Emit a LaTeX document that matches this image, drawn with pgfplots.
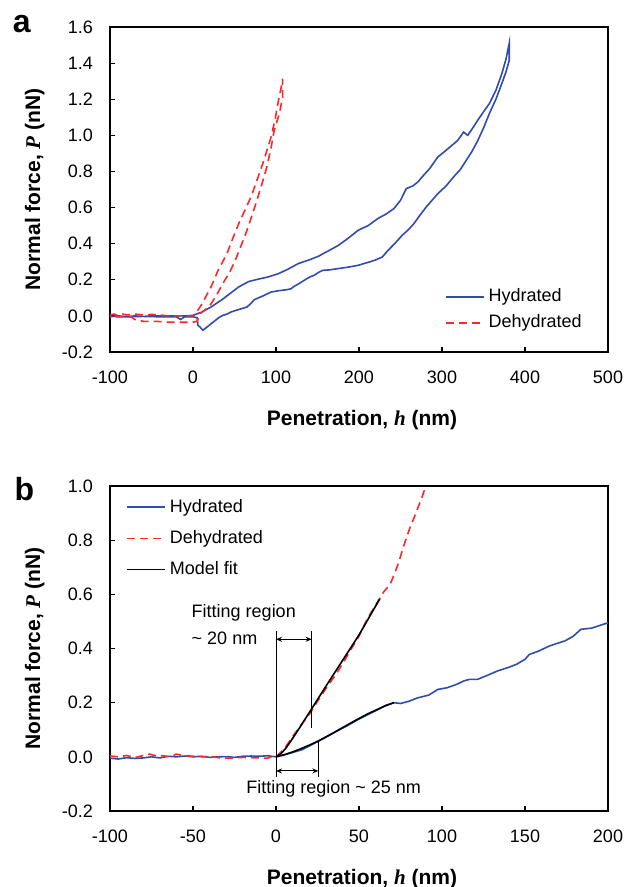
\documentclass[border=0pt]{standalone}
\usepackage{fontspec}
\setmainfont{Liberation Sans}
\newfontfamily\tnr{Liberation Serif}
\usepackage{pgfplots}
\pgfplotsset{compat=1.18}
\usetikzlibrary{arrows.meta}

\definecolor{hyd}{RGB}{48,76,172}
\definecolor{dehyd}{RGB}{250,40,40}

\pgfplotsset{
  panel/.style={
    width=249pt, height=162.5pt, scale only axis,
    axis line style={line width=1pt},
    tick align=inside, xtick pos=bottom, ytick pos=left,
    major tick length=2.5pt,
    every tick/.style={black, line width=0.6pt},
    tick label style={font=\fontsize{9}{10}\selectfont},
    /pgf/number format/assume math mode=true,
    xticklabel style={yshift=-6pt},
    yticklabel style={xshift=-5pt, /pgf/number format/fixed, /pgf/number format/fixed zerofill, /pgf/number format/precision=1},
    scaled ticks=false,
    label style={font=\fontsize{10.5}{12}\selectfont\bfseries},
    xlabel style={at={(axis description cs:0.506,-0.21)}, anchor=center},
    ylabel style={at={(axis description cs:-0.151,0.5)}, anchor=center},
    xlabel={Penetration, {\tnr\bfseries\itshape h} (nm)},
    ylabel={Normal force, {\tnr\bfseries\itshape P} (nN)},
    legend style={draw=none, fill=none, font=\fontsize{9}{10}\selectfont, row sep=3.5pt},
    legend cell align=left,
    legend image code/.code={\draw[#1] (0pt,0pt) -- (19pt,0pt);},
    clip mode=individual,
  },
  hydline/.style={color=hyd, line width=0.8pt},
  dehydline/.style={color=dehyd, line width=0.8pt, dash pattern=on 4pt off 2.5pt},
}

\begin{document}
\begin{tikzpicture}
\path[use as bounding box] (-55pt,-267.5pt) rectangle (256.5pt,176pt);

% ---------- panel a ----------
\begin{axis}[panel, at={(0pt,0pt)}, anchor=south west,
  xmin=-100, xmax=500, ymin=-0.2, ymax=1.6,
  xtick={-100,0,...,500}, ytick={-0.2,0,...,1.6},
  legend style={at={(axis cs:296,-0.13)}, anchor=south west, row sep=1pt}]
\addplot[hydline] coordinates {
(-100,-0.005)(-90,0.0)(-80,-0.005)(-70,0.0)(-60,-0.003)(-50,0.0)(-40,0.0)(-30,0.0)(-20,0.0)(-10,0.0)
(0,0.003)(10,0.02)(21.7,0.049)(35,0.09)(45,0.125)(55,0.16)(67,0.19)(80,0.205)(90,0.215)(103,0.234)
(115,0.26)(127,0.29)(140,0.31)(151,0.33)(163,0.36)(175,0.39)(187,0.43)(199,0.474)(211,0.5)(223,0.54)
(233,0.565)(242,0.594)(250,0.64)(257,0.705)(265,0.72)(271,0.742)(278,0.78)(285,0.815)(295,0.88)
(307,0.925)(319,0.972)(326,1.018)(331,1.0)(337,1.04)(343,1.083)(350,1.13)(357,1.175)(365,1.25)
(372,1.34)(377,1.42)(381,1.51)
(381,1.415)(377,1.35)(372,1.286)(365,1.2)(357,1.12)(350,1.04)(343,0.97)(336,0.91)(329,0.86)(322,0.81)
(314,0.77)(305,0.72)(295,0.677)(288,0.64)(281,0.603)(273,0.555)(266,0.51)(259,0.475)(252,0.446)
(243,0.4)(235,0.363)(228,0.326)(220,0.31)(213,0.299)(206,0.29)(199,0.28)(187,0.27)(175,0.262)
(165,0.255)(156,0.252)(151,0.24)(146,0.225)(142,0.218)(137,0.206)(130,0.185)(122,0.164)(118,0.15)
(113,0.145)(104,0.14)(94,0.132)(84,0.11)(74,0.09)(70,0.07)(65,0.049)(55,0.035)(46,0.022)(41,0.01)
(36,0.003)(31,-0.01)(27,-0.025)(20,-0.05)(12,-0.08)(8,-0.06)(6,-0.052)(5,-0.01)(0,-0.005)
(-10,-0.005)(-15,-0.02)(-20,-0.005)(-40,-0.005)(-60,-0.003)(-80,-0.005)(-100,-0.002)};
\addlegendentry{Hydrated}
\addplot[dehydline] coordinates {
(-100,0.005)(-95,0.01)(-90,0.0)(-85,0.01)(-80,0.005)(-70,0.01)(-60,0.005)(-50,0.008)(-40,0.005)
(-30,0.0)(-20,0.0)(-10,0.0)(0,0.0)(3,0.012)(10,0.06)(21.7,0.16)(30,0.25)(41,0.345)(48,0.43)(55,0.51)
(62,0.58)(70,0.66)(77,0.75)(84,0.843)(90,0.93)(94,0.99)(99,1.09)(103,1.194)(106,1.26)(108,1.314)
(108,1.21)(104,1.12)(98,1.03)(94,0.93)(89,0.825)(83,0.73)(77,0.64)(71,0.555)(65,0.474)(58,0.39)
(51,0.308)(44,0.24)(36,0.18)(29,0.12)(22,0.068)(15,0.035)(8,0.01)(5,-0.03)(0,-0.035)(-15,-0.035)
(-30,-0.035)(-45,-0.03)(-60,-0.03)(-70,-0.02)(-75,-0.005)(-85,-0.005)(-100,-0.005)};
\addlegendentry{Dehydrated}
\node[font=\fontsize{16}{16}\selectfont\bfseries] at (rel axis cs:-0.177,1.01) {a};
\end{axis}

% ---------- panel b ----------
\begin{axis}[panel, at={(0pt,-229.5pt)}, anchor=south west,
  xmin=-100, xmax=200, ymin=-0.2, ymax=1.0,
  xtick={-100,-50,...,200}, ytick={-0.2,0,...,1.0},
  legend style={at={(rel axis cs:0.02,0.985)}, anchor=north west}]
\addplot[hydline] coordinates {
(-100,-0.005)(-95,-0.008)(-90,-0.003)(-85,-0.006)(-80,-0.004)(-75,0.0)(-70,-0.004)(-65,0.002)(-60,0.0)
(-55,0.003)(-50,0.0)(-45,0.002)(-40,-0.002)(-35,0.0)(-30,0.001)(-25,-0.002)(-20,0.002)(-15,0.003)
(-10,0.002)(-5,0.004)(0,0.0)(5,0.007)(10,0.016)(16,0.027)(20,0.04)(25.6,0.058)(30,0.072)(37.5,0.098)
(43,0.115)(49.5,0.138)(55,0.155)(61.5,0.175)(66,0.19)(71,0.2)(75,0.197)(80,0.205)(85.5,0.218)
(92,0.228)(97.5,0.249)(103,0.255)(109,0.268)(113,0.28)(116.6,0.286)(121.4,0.286)(127,0.3)
(133.4,0.317)(140,0.33)(145,0.342)(150,0.36)(152.6,0.378)(158,0.39)(164.6,0.409)(170,0.42)
(174,0.428)(179,0.445)(183.7,0.471)(190,0.475)(195,0.485)(200,0.495)};
\addlegendentry{Hydrated}
\addplot[dehydline] coordinates {
(-100,0.003)(-95,0.0)(-90,0.005)(-85,-0.003)(-80,0.005)(-76,0.01)(-72,0.003)(-68,0.004)(-64,0.0)
(-60,0.01)(-56,0.005)(-52,0.003)(-48,0.002)(-44,0.0)(-40,0.002)(-35,-0.003)(-30,-0.005)(-25,-0.004)
(-20,-0.002)(-15,-0.003)(-10,-0.004)(-5,-0.005)(-3,0.0)(0,0.0)(5,0.03)(11,0.083)(16,0.125)
(20.8,0.163)(25,0.205)(30.4,0.255)(35,0.295)(40,0.342)(45,0.395)(49.5,0.44)(55,0.51)(61.5,0.575)
(65,0.61)(68.7,0.637)(71,0.67)(73.5,0.71)(77,0.78)(80.7,0.846)(83,0.88)(85.5,0.92)(88,0.96)(90.3,1.0)};
\addlegendentry{Dehydrated}
\addplot[black, line width=0.8pt] coordinates {
(0,0)(3,0.012)(6,0.032)(10,0.068)(15,0.115)(20,0.163)(30,0.26)(40,0.355)(50,0.45)(62.5,0.583)};
\addlegendentry{Model fit}
\addplot[black, line width=0.8pt, forget plot] coordinates {
(0,0)(5,0.008)(10,0.018)(15,0.03)(20,0.043)(25,0.057)(35,0.09)(45,0.125)(55,0.158)(65,0.186)(71,0.2)};
% fitting region markers
\draw[black, line width=0.45pt] (axis cs:0,-0.075) -- (axis cs:0,0.465);
\draw[black, line width=0.45pt] (axis cs:21.5,0.105) -- (axis cs:21.5,0.465);
\draw[black, line width=0.45pt] (axis cs:25.5,0.06) -- (axis cs:25.5,-0.075);
\draw[black, line width=0.45pt, {Stealth[length=3pt,width=2.5pt]}-{Stealth[length=3pt,width=2.5pt]}] (axis cs:0,0.434) -- (axis cs:21.5,0.434);
\draw[black, line width=0.45pt, {Stealth[length=3pt,width=2.5pt]}-{Stealth[length=3pt,width=2.5pt]}] (axis cs:0,-0.052) -- (axis cs:25.5,-0.052);
\node[anchor=west, font=\fontsize{9}{10}\selectfont, inner sep=0pt] at (axis cs:-51,0.53) {Fitting region};
\node[anchor=west, font=\fontsize{9}{10}\selectfont, inner sep=0pt] at (axis cs:-51,0.437) {\textasciitilde\ 20 nm};
\node[font=\fontsize{9}{10}\selectfont, inner sep=0pt] at (axis cs:34.7,-0.12) {Fitting region \textasciitilde\ 25 nm};
\node[font=\fontsize{16}{16}\selectfont\bfseries] at (rel axis cs:-0.172,0.99) {b};
\end{axis}
\end{tikzpicture}
\end{document}
